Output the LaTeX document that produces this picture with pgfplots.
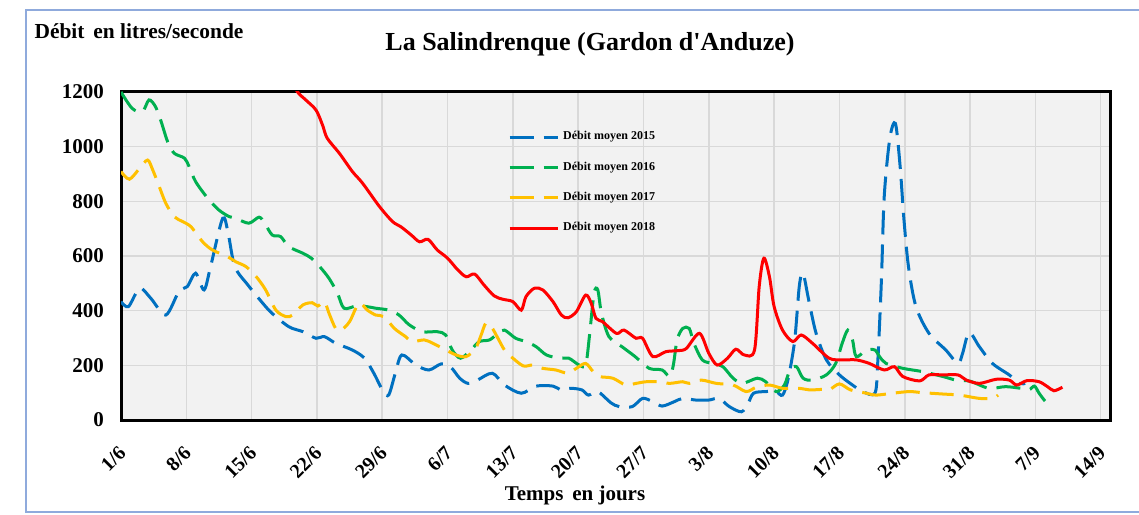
\documentclass[border=0pt]{standalone}
\usepackage{fontspec}
\setmainfont{Liberation Serif}
\usepackage{pgfplots}
\pgfplotsset{compat=1.18}
\definecolor{c15}{HTML}{0070C0}
\definecolor{c16}{HTML}{00B050}
\definecolor{c17}{HTML}{FFC000}
\definecolor{c18}{HTML}{FF0000}
\definecolor{bg}{HTML}{F2F2F2}
\definecolor{gridc}{HTML}{D9D9D9}
\definecolor{framec}{HTML}{8FAADC}
\begin{document}
\begin{tikzpicture}
\useasboundingbox (0,0) rectangle (569.5pt,257pt);
\draw[framec, line width=0.8pt] (569.5pt,1pt) -- (13pt,1pt) -- (13pt,252pt) -- (569.5pt,252pt);
\node[font=\bfseries\fontsize{10.7}{12}\selectfont] at (69.5pt,241.5pt) {Débit\, en litres/seconde};
\node[font=\bfseries\fontsize{13}{15}\selectfont] at (295pt,235pt) {La Salindrenque (Gardon d\textquotesingle Anduze)};
\node[font=\bfseries\fontsize{10.5}{12}\selectfont] at (287.5pt,9.5pt) {Temps\, en jours};
\begin{axis}[
  at={(60.5pt,47pt)}, anchor=south west,
  width=494.5pt, height=164pt, scale only axis,
  xmin=0, xmax=106, ymin=0, ymax=1200,
  xtick={0,7,...,105},
  xticklabels={1/6,8/6,15/6,22/6,29/6,6/7,13/7,20/7,27/7,3/8,10/8,17/8,24/8,31/8,7/9,14/9},
  ytick={0,200,...,1200},
  grid=major, grid style={gridc, line width=0.8pt},
  major tick length=0pt,
  axis background/.style={fill=bg},
  axis line style={black, line width=1.5pt},
  /pgf/number format/assume math mode=true,
  /pgf/number format/1000 sep={},
  scaled y ticks=false,
  yticklabel style={font=\bfseries\fontsize{10.5}{12}\selectfont, xshift=-5pt},
  xticklabel style={rotate=45, anchor=east, xshift=-6.5pt, yshift=-11pt, font=\bfseries\fontsize{10}{12}\selectfont},
  legend style={at={(0.385,0.905)}, anchor=north west, draw=none, fill=none,
    font=\bfseries\fontsize{6}{7}\selectfont, row sep=5.5pt, legend cell align=left},
  legend image code/.code={\draw[#1] (0pt,0pt) -- (24pt,0pt);},
  every axis plot/.append style={line width=1.5pt, smooth, tension=0.5},
]
\addplot[c15, dash pattern=on 12pt off 5pt] coordinates {
(0,433) (0.8,415) (2,482) (3.2,445) (4.8,384) (6.2,470) (7.1,488) (8,537) (8.9,476) (9.6,561) (10.9,738) (11.5,680) (12.2,561) (13.6,494) (15.2,427) (16.2,390) (18,341) (19.5,323) (20.9,299) (21.8,305) (23,281) (24.8,256) (26.1,226) (27.1,171) (28.1,105) (28.7,92) (29.4,171) (30.1,238) (31.6,201) (33,183) (34.3,205) (35.3,195) (36.3,153) (37.2,134) (38.2,146) (39.8,171) (41.1,128) (42.9,98) (44.5,124) (46.3,124) (47.2,110) (48.2,116) (49.4,110) (50.1,91) (51.1,104) (52.5,63) (53.4,49) (54.8,49) (55.9,79) (57,67) (58,51) (59.3,67) (60.2,79) (61.6,73) (63,73) (64.1,79) (65.2,49) (66.5,30) (67.2,60) (67.8,98) (69.1,104) (70.2,104) (70.9,91) (71.5,150) (72.2,290) (72.7,490) (73.1,537) (73.7,440) (74.5,317) (75.6,220) (77,165) (78.4,128) (79.5,104) (80.8,98) (81.1,207) (81.5,512) (81.8,817) (82.4,1030) (83,1085) (83.5,930) (83.9,740) (84.4,561) (85.2,415) (86.6,317) (88.4,256) (89.7,207) (90.2,244) (90.9,320) (92,268) (93.4,207) (95.2,165) (96.3,134) (96.9,134)
};
\addlegendentry{Débit moyen 2015}
\addplot[c16, dash pattern=on 12pt off 5pt] coordinates {
(0,1200) (1.2,1140) (2.3,1128) (3,1171) (3.7,1146) (4.3,1092) (5,1018) (5.7,976) (6.8,958) (7.3,927) (8,872) (9.3,811) (10.5,768) (11.6,744) (12.3,738) (13.7,720) (14.8,742) (15.4,720) (16.2,677) (17.1,671) (18,634) (19.5,610) (20.4,592) (21.3,561) (22.3,518) (23.2,464) (23.9,409) (25.2,417) (26.3,415) (27.3,409) (28.7,402) (29.8,384) (30.9,348) (32.3,323) (33.9,323) (34.8,311) (35.5,256) (36.4,226) (37.5,256) (38.4,287) (39.5,293) (40.4,317) (41.1,329) (42.3,299) (43.4,287) (44.5,268) (45.6,238) (47,226) (48,226) (49.1,201) (49.8,201) (50.2,305) (50.7,464) (51.1,476) (51.5,390) (52.3,305) (53.7,268) (55.1,232) (56.6,189) (58,183) (58.8,159) (59.2,201) (59.6,293) (60.2,335) (60.9,335) (61.4,281) (62.3,220) (63.4,207) (64.5,195) (65.6,153) (66.6,134) (68.2,153) (69.1,140) (70.2,104) (71.1,128) (71.7,183) (72.4,195) (73.1,153) (74.1,146) (75.6,165) (76.6,207) (77.3,281) (77.9,329) (78.4,293) (78.8,232) (79.9,256) (80.8,256) (81.3,232) (82,207) (83.8,189) (85.9,177) (88.1,159) (89.5,146) (91,142) (93,116) (94.8,122) (96.4,116) (97.3,110) (97.9,124) (98.4,98) (99.1,67) (99.8,49)
};
\addlegendentry{Débit moyen 2016}
\addplot[c17, dash pattern=on 12pt off 5pt] coordinates {
(0,909) (0.9,881) (2,921) (2.85,951) (3.4,915) (4.1,854) (4.8,793) (5.7,744) (6.6,726) (7.5,707) (8.75,652) (9.8,622) (11.4,598) (12.3,579) (13.4,561) (14.5,524) (15.5,476) (16.6,402) (17.7,378) (18.4,384) (19.5,421) (20.5,429) (21.1,417) (21.8,433) (22.3,390) (23,335) (23.6,329) (24.5,360) (25.5,427) (26.4,402) (27.3,384) (28.2,378) (29.3,335) (30.5,305) (31.2,287) (32.5,293) (33.4,281) (34.5,262) (35.9,238) (37,232) (38,262) (38.6,311) (39.1,354) (39.7,341) (40.4,299) (41.1,256) (41.8,232) (43.1,198) (44.1,201) (45.2,189) (46.6,183) (47.9,171) (48.8,189) (49.8,207) (50.6,177) (51.3,159) (52.7,153) (54.1,128) (55.2,134) (56.3,140) (57.7,140) (58.8,134) (60.2,140) (60.9,134) (62.2,146) (63.8,134) (65.6,128) (67,104) (68.1,120) (69.5,128) (70.9,116) (72.7,116) (73.8,110) (75.2,112) (75.9,110) (77,132) (78.2,110) (79.9,98) (80.9,91) (82.7,98) (84.5,104) (85.9,100) (88.1,95) (89.9,91) (92,79) (93.4,79) (94,91)
};
\addlegendentry{Débit moyen 2017}
\addplot[c18] coordinates {
(18,1260) (18.9,1201) (19.8,1171) (20.9,1134) (21.6,1079) (22.1,1031) (23.4,976) (24.8,909) (25.9,866) (27.7,781) (29.1,726) (30,707) (31.1,677) (32,652) (32.9,661) (33.9,622) (35,592) (36.1,549) (37,524) (37.9,534) (38.9,494) (40,454) (40.9,442) (42,433) (42.9,402) (43.4,451) (44.3,482) (45.2,476) (46.3,433) (47.2,384) (47.9,374) (48.8,396) (49.8,457) (50.4,427) (50.9,372) (51.6,360) (53.1,317) (53.9,329) (55.2,299) (55.9,299) (57,232) (58.4,250) (59.8,254) (60.6,262) (62,317) (63,244) (63.9,201) (65,226) (65.9,259) (66.8,238) (67.9,256) (68.4,488) (68.9,592) (69.5,524) (70,415) (70.9,329) (72,287) (72.9,311) (74.1,281) (75.9,226) (77.3,220) (78.8,220) (80.2,207) (81.8,183) (82.9,195) (83.8,159) (85.6,143) (86.6,165) (88.1,165) (89.7,165) (90.6,146) (92,134) (93.8,149) (95.2,146) (96,128) (97.1,144) (98.4,140) (99.3,122) (100,107) (100.9,120)
};
\addlegendentry{Débit moyen 2018}
\end{axis}
\end{tikzpicture}
\end{document}
